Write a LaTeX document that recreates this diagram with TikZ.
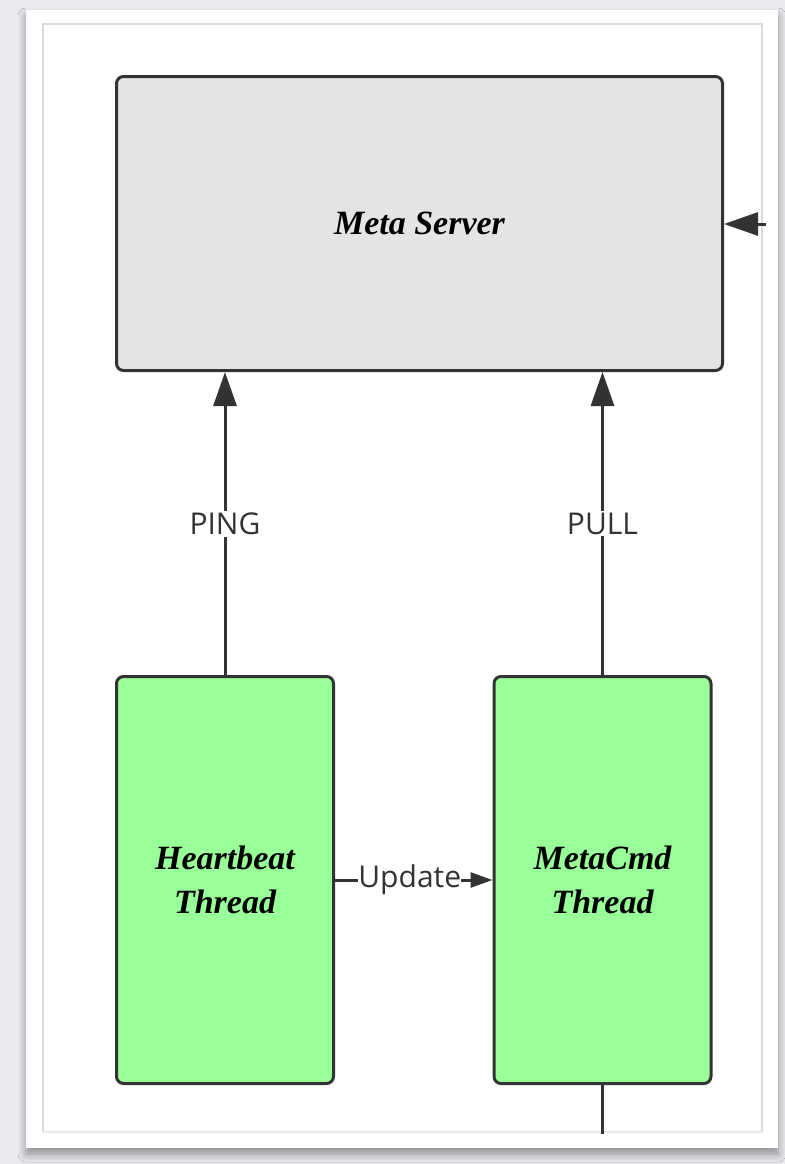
\documentclass[tikz,border=0pt]{standalone}
\usepackage{fontspec}
\setmainfont{Liberation Serif}
\newfontfamily\lblfont{Open Sans}
\usetikzlibrary{arrows.meta,shadows.blur}
\definecolor{bgc}{HTML}{E8EAED}
\definecolor{edgec}{HTML}{333333}
\definecolor{metafill}{HTML}{E4E4E4}
\definecolor{thrfill}{HTML}{99FF99}
\definecolor{framec}{HTML}{DADADA}
\tikzset{
  boxstyle/.style={draw=edgec, line width=1.5pt, rounded corners=3.5pt, inner sep=0pt,
    font=\fontsize{17}{22}\selectfont\bfseries\itshape, text=black, align=center},
  arr/.style={draw=edgec, line width=1.5pt, -{Triangle[length=17pt,width=11.5pt]}},
  arrsmall/.style={draw=edgec, line width=1.5pt, -{Triangle[length=11pt,width=7.5pt]}},
  plain/.style={draw=edgec, line width=1.5pt},
  lbl/.style={fill=white, inner sep=1pt, text=edgec, font=\lblfont\fontsize{15}{18}\selectfont}
}
\begin{document}
\begin{tikzpicture}[x=0.5pt,y=-0.5pt]
\useasboundingbox (0,0) rectangle (785,1164);
\fill[bgc] (0,0) rectangle (785,1164);
% card
\fill[white, blur shadow={shadow xshift=0pt, shadow yshift=-3pt, shadow blur steps=8, shadow blur radius=4pt}] (26,10) rectangle (778,1148);
\draw[framec, line width=0.8pt] (43,1132) -- (43,24) -- (762,24) -- (762,1132);
\draw[framec!60, line width=0.6pt] (43,1132) -- (762,1132);
% nodes
\node[boxstyle, fill=metafill, minimum width=303pt, minimum height=147pt] (meta) at (419.5,223.5) {Meta Server};
\node[boxstyle, fill=thrfill, minimum width=108.5pt, minimum height=203.5pt] (hb) at (225,880) {Heartbeat\\Thread};
\node[boxstyle, fill=thrfill, minimum width=108.5pt, minimum height=203.5pt] (mc) at (602.5,880) {MetaCmd\\Thread};
% connectors
\draw[arr] (hb.north) -- node[lbl] {PING} (meta.south -| hb.north);
\draw[arr] (mc.north) -- node[lbl] {PULL} (meta.south -| mc.north);
\draw[arrsmall] (hb.east) -- node[lbl, inner sep=0pt, xshift=-2pt] {Update} (mc.west);
\coordinate (rin) at (766,224);
\draw[arr] (rin) -- (meta.east |- rin);
\coordinate (bout) at (602.5,1134);
\draw[plain] (mc.south) -- (bout);
\end{tikzpicture}
\end{document}
